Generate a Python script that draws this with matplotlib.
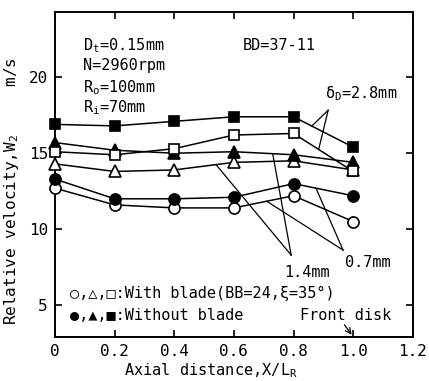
import numpy as np
import matplotlib
matplotlib.use('Agg')
import matplotlib.pyplot as plt

plt.rcParams['font.family'] = ['DejaVu Sans Mono', 'DejaVu Sans']
plt.rcParams['mathtext.fontset'] = 'custom'
plt.rcParams['mathtext.rm'] = 'DejaVu Sans Mono'
plt.rcParams['mathtext.it'] = 'DejaVu Sans Mono'

# axial position X/LR
x = [0, 0.2, 0.4, 0.6, 0.8, 1.0]

# relative velocity W2 (m/s), open = with blade, filled = without blade
circ_blade = [12.7, 11.6, 11.4, 11.4, 12.2, 10.5]      # 0.7mm
circ_noblade = [13.3, 12.0, 12.0, 12.1, 13.0, 12.2]
tri_blade = [14.3, 13.8, 13.9, 14.4, 14.5, 13.9]       # 1.4mm
tri_noblade = [15.7, 15.2, 15.0, 15.1, 14.9, 14.4]
sq_blade = [15.1, 14.9, 15.3, 16.2, 16.3, 13.8]        # 2.8mm
sq_noblade = [16.9, 16.8, 17.1, 17.4, 17.4, 15.4]

xticks = [0, 0.2, 0.4, 0.6, 0.8, 1.0, 1.2]
xticklabels = ['0', '0.2', '0.4', '0.6', '0.8', '1.0', '1.2']
yticks = [5, 10, 15, 20]

fig = plt.figure(figsize=(4.29, 3.81), dpi=100)
ax = fig.add_axes([0.128, 0.1155, 0.8345, 0.853])

series = [
    (circ_blade, 'o', 'white', 8),
    (circ_noblade, 'o', 'black', 8),
    (tri_blade, '^', 'white', 8),
    (tri_noblade, '^', 'black', 8),
    (sq_blade, 's', 'white', 7.5),
    (sq_noblade, 's', 'black', 7.5),
]
for ys, m, fc, ms in series:
    ax.plot(x, ys, color='black', lw=1.1, marker=m, ms=ms, mfc=fc,
            mec='black', mew=1.2, clip_on=False, zorder=3)

ax.set_xlim(0, 1.2)
ax.set_ylim(2.9, 24.3)
ax.set_xticks(xticks)
ax.set_xticklabels(xticklabels)
ax.set_yticks(yticks)
ax.tick_params(direction='in', top=True, right=True, length=5, width=1.2,
               labelsize=11.5, pad=5)
for s in ax.spines.values():
    s.set_linewidth(1.4)

ax.set_xlabel('Axial distance,X/L$_{\\rm R}$', fontsize=11)
ax.xaxis.set_label_coords(0.436, -0.075)
ax.set_ylabel('Relative velocity,W$_{\\rm 2}$     m/s', fontsize=11.5)
ax.yaxis.set_label_coords(-0.095, 0.45)

fs = 11
ax.text(0.094, 22.1, 'D$_{\\rm t}$=0.15mm', fontsize=fs, va='center')
ax.text(0.094, 20.8, 'N=2960rpm', fontsize=fs, va='center')
ax.text(0.094, 19.3, 'R$_{\\rm o}$=100mm', fontsize=fs, va='center')
ax.text(0.094, 18.0, 'R$_{\\rm i}$=70mm', fontsize=fs, va='center')
ax.text(0.63, 22.1, 'BD=37-11', fontsize=fs, va='center')

# leader lines to the curve groups
def leader(apex, xs, curves):
    for xe, c in zip(xs, curves):
        ye = np.interp(xe, x, c)
        ax.plot([apex[0], xe], [apex[1], ye], color='black', lw=0.9, zorder=2)

leader((0.916, 17.83), [0.861, 0.884], [sq_noblade, sq_blade])
leader((0.792, 8.29), [0.54, 0.73], [tri_blade, tri_noblade])
leader((0.966, 8.62), [0.71, 0.875], [circ_blade, circ_noblade])

ax.text(1.027, 18.95, 'δ$_{\\rm D}$=2.8mm', fontsize=fs, ha='center', va='center')
ax.text(0.846, 7.17, '1.4mm', fontsize=fs, ha='center', va='center')
ax.text(1.05, 7.83, '0.7mm', fontsize=fs, ha='center', va='center')

ax.text(0.05, 5.75, '○,△,□:With blade(BB=24,ξ=35°)', fontsize=fs, va='center')
ax.text(0.05, 4.3, '●,▲,■:Without blade', fontsize=fs, va='center')
ax.text(0.82, 4.3, 'Front disk', fontsize=fs, va='center')
ax.annotate('', xy=(1.0, 2.9), xytext=(0.965, 3.85),
            arrowprops=dict(arrowstyle='->', lw=0.9, color='black'))

fig.savefig('out.png', dpi=100)
